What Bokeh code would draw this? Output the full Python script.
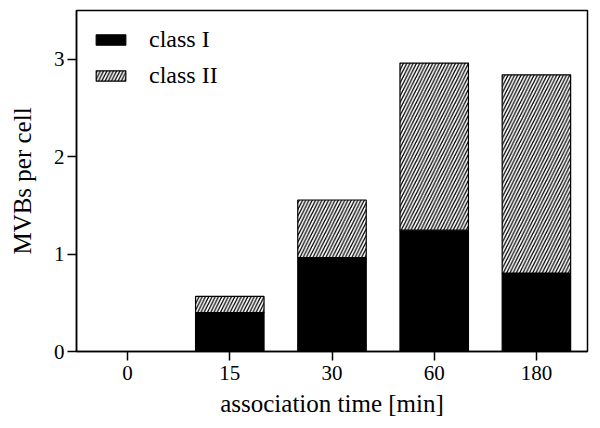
from bokeh.plotting import figure
from bokeh.models import FactorRange, Range1d, FixedTicker, ColumnDataSource
from bokeh.embed import file_html
from bokeh.resources import INLINE

times = ["0", "15", "30", "60", "180"]
class_1 = [0.0, 0.40, 0.965, 1.245, 0.805]
class_2 = [0.0, 0.165, 0.59, 1.715, 2.035]
series = ["class I", "class II"]
y_ticks = [0, 1, 2, 3]

FONT = "'Liberation Serif', 'Times New Roman', serif"

src = ColumnDataSource(dict(time=times, c1=class_1, c2=class_2))

p = figure(x_range=FactorRange(*times, range_padding=0), y_range=Range1d(0, 3.5),
           width=600, height=428, output_backend="svg", toolbar_location=None,
           min_border_left=76, min_border_right=13, min_border_top=10, min_border_bottom=77)

p.vbar_stack(["c1", "c2"], x="time", source=src, width=0.67,
             fill_color=["black", "white"], line_color="black", line_width=1.2,
             hatch_pattern=[" ", "/"], hatch_color="black", hatch_scale=6.5, hatch_weight=1.3,
             legend_label=series)

p.xgrid.visible = False
p.ygrid.visible = False
p.outline_line_color = "black"
p.outline_line_width = 1.5

for ax in (p.xaxis[0], p.yaxis[0]):
    ax.axis_line_width = 1.5
    ax.major_tick_line_width = 1.5
    ax.major_tick_out = 9
    ax.major_tick_in = 0
    ax.minor_tick_line_color = None
    ax.major_label_text_font = FONT
    ax.major_label_text_font_size = "21px"
    ax.major_label_text_color = "black"
    ax.axis_label_text_font = FONT
    ax.axis_label_text_font_size = "25px"
    ax.axis_label_text_font_style = "normal"
    ax.axis_label_text_color = "black"

p.yaxis.ticker = FixedTicker(ticks=y_ticks)
p.yaxis.axis_label = "MVBs per cell"
p.yaxis.major_label_standoff = 3
p.yaxis.axis_label_standoff = 15
p.xaxis.axis_label = "association time [min]"
p.xaxis.major_label_standoff = 5
p.xaxis.axis_label_standoff = 7

lg = p.legend[0]
lg.location = "top_left"
lg.border_line_alpha = 0
lg.background_fill_alpha = 0
lg.label_text_font = FONT
lg.label_text_font_size = "24px"
lg.label_text_color = "black"
lg.glyph_width = 37
lg.glyph_height = 13
lg.label_height = 24
lg.spacing = 9
lg.label_standoff = 20
lg.margin = 8
lg.padding = 8

open("out.html", "w").write(file_html(p, INLINE))
